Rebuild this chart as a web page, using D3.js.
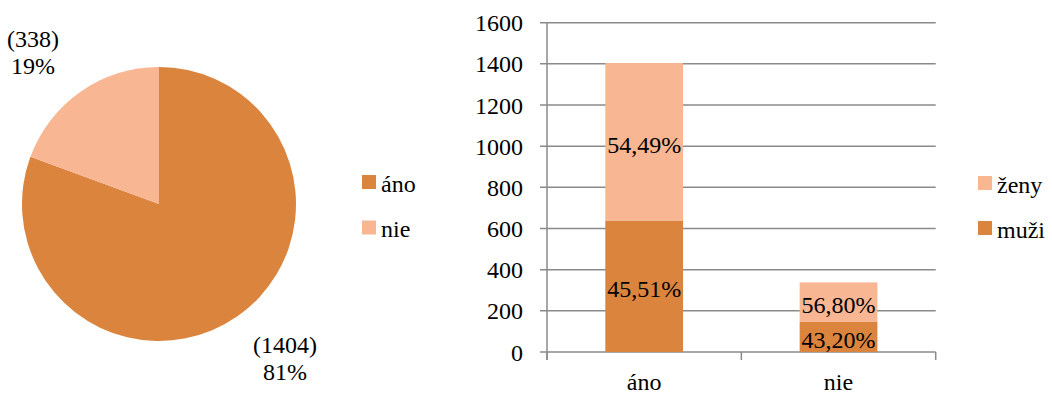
<!DOCTYPE html>
<html><head><meta charset="utf-8">
<script src="https://cdn.jsdelivr.net/npm/d3@7/dist/d3.min.js"></script>
</head>
<body style="margin:0;background:#fff">
<svg id="c" width="1052" height="396"></svg>
<script>
// ---- data ----
const pieCategories = ["áno", "nie"];
const pieValues = [1404, 338];
const piePercentLabels = ["81%", "19%"];

const barCategories = ["áno", "nie"];
const seriesNames = ["muži", "ženy"];
const muziValues = [639, 146];
const zenyValues = [765, 192];
const muziLabels = ["45,51%", "43,20%"];
const zenyLabels = ["54,49%", "56,80%"];
const yTicks = [0, 200, 400, 600, 800, 1000, 1200, 1400, 1600];

const colDark = "#DB843E";
const colLight = "#F8B692";
const gridCol = "#8a8a8a";
const fs = 24;

const svg = d3.select("#c");
const shapes = svg.append("g");
function txt(x, y, s, anchor) {
  return svg.append("text")
    .attr("x", x).attr("y", y)
    .attr("style", "font-family:'Times New Roman','Liberation Serif',Tinos,serif;font-size:" + fs + "px;fill:#000")
    .attr("text-anchor", anchor || "start")
    .text(s);
}

// ---- pie ----
const cx = 159, cy = 204, r = 137;
const pie = d3.pie().sort(null).value(d => d)(pieValues);
const arc = d3.arc().innerRadius(0).outerRadius(r);
const pieColors = d3.scaleOrdinal().domain(pieCategories).range([colDark, colLight]);
shapes.append("g").attr("transform", `translate(${cx},${cy})`)
  .selectAll("path").data(pie).join("path")
  .attr("d", arc)
  .attr("fill", (d, i) => pieColors(pieCategories[i]));

const labelArc = d3.arc().innerRadius(185).outerRadius(185);
pie.forEach((d, i) => {
  const c = labelArc.centroid(d);
  const lx = cx + c[0] + Math.sign(c[0]) * 20;
  const ly = cy + (c[1] < 0 ? c[1] : c[1] + 2);
  txt(lx, ly - 13.5 + 8.5, `(${pieValues[i]})`, "middle");
  txt(lx, ly + 13.5 + 8.5, piePercentLabels[i], "middle");
});

// pie legend
pieCategories.forEach((c, i) => {
  const y0 = 175 + i * 45.5;
  shapes.append("rect").attr("x", 362).attr("y", y0).attr("width", 14).attr("height", 14).attr("fill", pieColors(c));
  txt(381, y0 + 16.5, c);
});

// ---- bar chart ----
const x0 = 547, x1 = 935.7, yBottom = 352, yTop = 22.7;
const y = d3.scaleLinear().domain([0, 1600]).range([yBottom, yTop]);
const x = d3.scaleBand().domain(barCategories).range([x0, x1]).padding(0);
const bw = x.bandwidth() * 0.4;

shapes.selectAll("line.grid").data(yTicks).join("line")
  .attr("x1", x0 - 7).attr("x2", x1)
  .attr("y1", d => y(d)).attr("y2", d => y(d))
  .attr("stroke", gridCol).attr("stroke-width", 1.5);
shapes.append("line").attr("x1", x0).attr("x2", x0).attr("y1", y(1600)).attr("y2", yBottom + 8)
  .attr("stroke", gridCol).attr("stroke-width", 1.5);
const xt = barCategories.map(c => x(c)).concat([x1]);
shapes.selectAll("line.xt").data(xt).join("line")
  .attr("x1", d => d).attr("x2", d => d).attr("y1", yBottom).attr("y2", yBottom + 8)
  .attr("stroke", gridCol).attr("stroke-width", 1.5);
yTicks.forEach(v => txt(523, y(v) + 8.5, String(v), "end"));
barCategories.forEach(c => txt(x(c) + x.bandwidth() / 2, 390, c, "middle"));

const stackData = barCategories.map((c, i) => ({cat: c, "muži": muziValues[i], "ženy": zenyValues[i]}));
const stack = d3.stack().keys(seriesNames)(stackData);
const serColor = {"muži": colDark, "ženy": colLight};
const serLabels = {"muži": muziLabels, "ženy": zenyLabels};
stack.forEach(s => {
  shapes.selectAll(null).data(s).join("rect")
    .attr("x", d => x(d.data.cat) + x.bandwidth() / 2 - bw / 2)
    .attr("width", bw)
    .attr("y", d => y(d[1]))
    .attr("height", d => y(d[0]) - y(d[1]))
    .attr("fill", serColor[s.key]);
});
stack.forEach(s => {
  s.forEach((d, i) => {
    txt(x(d.data.cat) + x.bandwidth() / 2, y((d[0] + d[1]) / 2) + 11, serLabels[s.key][i], "middle");
  });
});

const legendOrder = ["ženy", "muži"];
legendOrder.forEach((k, i) => {
  const y0 = 176 + i * 45;
  shapes.append("rect").attr("x", 978).attr("y", y0).attr("width", 14).attr("height", 14).attr("fill", serColor[k]);
  txt(997, y0 + 16.5, k);
});
</script>
</body></html>
